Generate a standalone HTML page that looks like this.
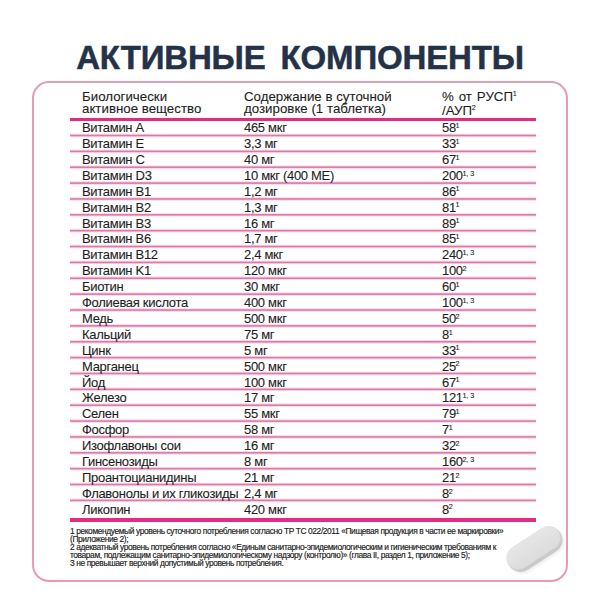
<!DOCTYPE html>
<html><head><meta charset="utf-8">
<style>
html,body{margin:0;padding:0;background:#fff;}
body{width:600px;height:600px;position:relative;overflow:hidden;font-family:"Liberation Sans",sans-serif;color:#1e1e1e;}
.a{position:absolute;white-space:nowrap;}
.t{position:absolute;left:0;width:600px;text-align:center;font-weight:bold;font-size:33px;letter-spacing:-0.16px;word-spacing:6px;-webkit-text-stroke:0.5px #243247;color:#243247;line-height:40px;top:37.79px;}
.box{position:absolute;left:32px;top:81px;width:532px;height:497px;border:2px solid #e89bb3;border-top-color:#dda2b4;border-radius:17px;}
.hl{position:absolute;left:70px;width:466px;background:#e62a80;}
.ln{position:absolute;left:70px;width:466px;height:1.5px;background:#d183a8;}
.r{position:absolute;font-size:13px;letter-spacing:-0.3px;-webkit-text-stroke:0.1px #1e1e1e;line-height:16px;white-space:nowrap;}
.h{position:absolute;font-size:13.3px;line-height:12px;white-space:nowrap;-webkit-text-stroke:0.1px #1e1e1e;}
sup{font-size:7.2px;vertical-align:0;position:relative;top:-4.3px;margin-left:-0.3px;letter-spacing:-0.3px;word-spacing:0.6px;}
.f{position:absolute;left:70px;font-size:8.4px;letter-spacing:-0.39px;line-height:10px;white-space:nowrap;color:#1a1a1a;-webkit-text-stroke:0.15px #1a1a1a;}
</style></head><body>

<div class="t">АКТИВНЫЕ КОМПОНЕНТЫ</div>
<div class="box"></div>
<div class="h" style="left:82px;top:90.60px">Биологически<br>активное вещество</div>
<div class="h" style="left:244px;top:90.60px">Содержание в суточной<br>дозировке (1 таблетка)</div>
<div class="h" style="left:442px;top:90.60px"><span style="word-spacing:1.2px">% от РУСП</span><sup>1</sup><br>/АУП<sup>2</sup></div>
<div class="hl" style="top:117.5px;height:3px"></div>
<div class="hl" style="top:518px;height:3.5px"></div>
<svg class="a" style="left:0;top:0" width="600" height="600"><rect x="70" y="133.60" width="466" height="3.8" fill="#fddbee"/><rect x="70" y="134.70" width="466" height="1.6" fill="#d87ca6"/><rect x="70" y="149.47" width="466" height="3.8" fill="#fddbee"/><rect x="70" y="150.56" width="466" height="1.6" fill="#d87ca6"/><rect x="70" y="165.33" width="466" height="3.8" fill="#fddbee"/><rect x="70" y="166.43" width="466" height="1.6" fill="#d87ca6"/><rect x="70" y="181.19" width="466" height="3.8" fill="#fddbee"/><rect x="70" y="182.29" width="466" height="1.6" fill="#d87ca6"/><rect x="70" y="197.06" width="466" height="3.8" fill="#fddbee"/><rect x="70" y="198.16" width="466" height="1.6" fill="#d87ca6"/><rect x="70" y="212.92" width="466" height="3.8" fill="#fddbee"/><rect x="70" y="214.02" width="466" height="1.6" fill="#d87ca6"/><rect x="70" y="228.79" width="466" height="3.8" fill="#fddbee"/><rect x="70" y="229.89" width="466" height="1.6" fill="#d87ca6"/><rect x="70" y="244.66" width="466" height="3.8" fill="#fddbee"/><rect x="70" y="245.75" width="466" height="1.6" fill="#d87ca6"/><rect x="70" y="260.52" width="466" height="3.8" fill="#fddbee"/><rect x="70" y="261.62" width="466" height="1.6" fill="#d87ca6"/><rect x="70" y="276.38" width="466" height="3.8" fill="#fddbee"/><rect x="70" y="277.48" width="466" height="1.6" fill="#d87ca6"/><rect x="70" y="292.25" width="466" height="3.8" fill="#fddbee"/><rect x="70" y="293.35" width="466" height="1.6" fill="#d87ca6"/><rect x="70" y="308.12" width="466" height="3.8" fill="#fddbee"/><rect x="70" y="309.21" width="466" height="1.6" fill="#d87ca6"/><rect x="70" y="323.98" width="466" height="3.8" fill="#fddbee"/><rect x="70" y="325.08" width="466" height="1.6" fill="#d87ca6"/><rect x="70" y="339.85" width="466" height="3.8" fill="#fddbee"/><rect x="70" y="340.94" width="466" height="1.6" fill="#d87ca6"/><rect x="70" y="355.71" width="466" height="3.8" fill="#fddbee"/><rect x="70" y="356.81" width="466" height="1.6" fill="#d87ca6"/><rect x="70" y="371.58" width="466" height="3.8" fill="#fddbee"/><rect x="70" y="372.68" width="466" height="1.6" fill="#d87ca6"/><rect x="70" y="387.44" width="466" height="3.8" fill="#fddbee"/><rect x="70" y="388.54" width="466" height="1.6" fill="#d87ca6"/><rect x="70" y="403.31" width="466" height="3.8" fill="#fddbee"/><rect x="70" y="404.40" width="466" height="1.6" fill="#d87ca6"/><rect x="70" y="419.17" width="466" height="3.8" fill="#fddbee"/><rect x="70" y="420.27" width="466" height="1.6" fill="#d87ca6"/><rect x="70" y="435.04" width="466" height="3.8" fill="#fddbee"/><rect x="70" y="436.13" width="466" height="1.6" fill="#d87ca6"/><rect x="70" y="450.90" width="466" height="3.8" fill="#fddbee"/><rect x="70" y="452.00" width="466" height="1.6" fill="#d87ca6"/><rect x="70" y="466.77" width="466" height="3.8" fill="#fddbee"/><rect x="70" y="467.87" width="466" height="1.6" fill="#d87ca6"/><rect x="70" y="482.63" width="466" height="3.8" fill="#fddbee"/><rect x="70" y="483.73" width="466" height="1.6" fill="#d87ca6"/><rect x="70" y="498.50" width="466" height="3.8" fill="#fddbee"/><rect x="70" y="499.59" width="466" height="1.6" fill="#d87ca6"/></svg>
<div class="r" style="left:82px;top:120.10px">Витамин A</div>
<div class="r" style="left:244px;top:120.10px">465 мкг</div>
<div class="r" style="left:442px;top:120.10px">58<sup>1</sup></div>
<div class="r" style="left:82px;top:136.00px">Витамин E</div>
<div class="r" style="left:244px;top:136.00px">3,3 мг</div>
<div class="r" style="left:442px;top:136.00px">33<sup>1</sup></div>
<div class="r" style="left:82px;top:151.90px">Витамин C</div>
<div class="r" style="left:244px;top:151.90px">40 мг</div>
<div class="r" style="left:442px;top:151.90px">67<sup>1</sup></div>
<div class="r" style="left:82px;top:167.80px">Витамин D3</div>
<div class="r" style="left:244px;top:167.80px">10 мкг (400 МЕ)</div>
<div class="r" style="left:442px;top:167.80px">200<sup>1, 3</sup></div>
<div class="r" style="left:82px;top:183.70px">Витамин B1</div>
<div class="r" style="left:244px;top:183.70px">1,2 мг</div>
<div class="r" style="left:442px;top:183.70px">86<sup>1</sup></div>
<div class="r" style="left:82px;top:199.60px">Витамин B2</div>
<div class="r" style="left:244px;top:199.60px">1,3 мг</div>
<div class="r" style="left:442px;top:199.60px">81<sup>1</sup></div>
<div class="r" style="left:82px;top:215.50px">Витамин B3</div>
<div class="r" style="left:244px;top:215.50px">16 мг</div>
<div class="r" style="left:442px;top:215.50px">89<sup>1</sup></div>
<div class="r" style="left:82px;top:231.40px">Витамин B6</div>
<div class="r" style="left:244px;top:231.40px">1,7 мг</div>
<div class="r" style="left:442px;top:231.40px">85<sup>1</sup></div>
<div class="r" style="left:82px;top:247.30px">Витамин B12</div>
<div class="r" style="left:244px;top:247.30px">2,4 мкг</div>
<div class="r" style="left:442px;top:247.30px">240<sup>1, 3</sup></div>
<div class="r" style="left:82px;top:263.20px">Витамин K1</div>
<div class="r" style="left:244px;top:263.20px">120 мкг</div>
<div class="r" style="left:442px;top:263.20px">100<sup>2</sup></div>
<div class="r" style="left:82px;top:279.10px">Биотин</div>
<div class="r" style="left:244px;top:279.10px">30 мкг</div>
<div class="r" style="left:442px;top:279.10px">60<sup>1</sup></div>
<div class="r" style="left:82px;top:295.00px">Фолиевая кислота</div>
<div class="r" style="left:244px;top:295.00px">400 мкг</div>
<div class="r" style="left:442px;top:295.00px">100<sup>1, 3</sup></div>
<div class="r" style="left:82px;top:310.90px">Медь</div>
<div class="r" style="left:244px;top:310.90px">500 мкг</div>
<div class="r" style="left:442px;top:310.90px">50<sup>2</sup></div>
<div class="r" style="left:82px;top:326.80px">Кальций</div>
<div class="r" style="left:244px;top:326.80px">75 мг</div>
<div class="r" style="left:442px;top:326.80px">8<sup>1</sup></div>
<div class="r" style="left:82px;top:342.70px">Цинк</div>
<div class="r" style="left:244px;top:342.70px">5 мг</div>
<div class="r" style="left:442px;top:342.70px">33<sup>1</sup></div>
<div class="r" style="left:82px;top:358.60px">Марганец</div>
<div class="r" style="left:244px;top:358.60px">500 мкг</div>
<div class="r" style="left:442px;top:358.60px">25<sup>2</sup></div>
<div class="r" style="left:82px;top:374.50px">Йод</div>
<div class="r" style="left:244px;top:374.50px">100 мкг</div>
<div class="r" style="left:442px;top:374.50px">67<sup>1</sup></div>
<div class="r" style="left:82px;top:390.40px">Железо</div>
<div class="r" style="left:244px;top:390.40px">17 мг</div>
<div class="r" style="left:442px;top:390.40px">121<sup>1, 3</sup></div>
<div class="r" style="left:82px;top:406.30px">Селен</div>
<div class="r" style="left:244px;top:406.30px">55 мкг</div>
<div class="r" style="left:442px;top:406.30px">79<sup>1</sup></div>
<div class="r" style="left:82px;top:422.20px">Фосфор</div>
<div class="r" style="left:244px;top:422.20px">58 мг</div>
<div class="r" style="left:442px;top:422.20px">7<sup>1</sup></div>
<div class="r" style="left:82px;top:438.10px">Изофлавоны сои</div>
<div class="r" style="left:244px;top:438.10px">16 мг</div>
<div class="r" style="left:442px;top:438.10px">32<sup>2</sup></div>
<div class="r" style="left:82px;top:454.00px">Гинсенозиды</div>
<div class="r" style="left:244px;top:454.00px">8 мг</div>
<div class="r" style="left:442px;top:454.00px">160<sup>2, 3</sup></div>
<div class="r" style="left:82px;top:469.90px">Проантоцианидины</div>
<div class="r" style="left:244px;top:469.90px">21 мг</div>
<div class="r" style="left:442px;top:469.90px">21<sup>2</sup></div>
<div class="r" style="left:82px;top:485.80px">Флавонолы и их гликозиды</div>
<div class="r" style="left:244px;top:485.80px">2,4 мг</div>
<div class="r" style="left:442px;top:485.80px">8<sup>2</sup></div>
<div class="r" style="left:82px;top:501.70px">Ликопин</div>
<div class="r" style="left:244px;top:501.70px">420 мкг</div>
<div class="r" style="left:442px;top:501.70px">8<sup>2</sup></div>
<div class="f" style="top:525.92px">1 рекомендуемый уровень суточного потребления согласно ТР ТС 022/2011 «Пищевая продукция в части ее маркировки»</div>
<div class="f" style="top:533.72px">(Приложение 2);</div>
<div class="f" style="top:541.52px">2 адекватный уровень потребления согласно «Единым санитарно-эпидемиологическим и гигиеническим требованиям к</div>
<div class="f" style="top:549.62px">товарам, подлежащим санитарно-эпидемиологическому надзору (контролю)» (глава II, раздел 1, приложение 5);</div>
<div class="f" style="top:557.72px">3 не превышает верхний допустимый уровень потребления.</div>
<svg class="a" style="left:495px;top:515px" width="80" height="70" viewBox="0 0 80 70">
<defs>
<linearGradient id="pg" x1="0" y1="0" x2="0" y2="1">
<stop offset="0" stop-color="#e6e6e6"/><stop offset="1" stop-color="#dcdcdc"/>
</linearGradient>
<linearGradient id="eg" x1="0" y1="0" x2="0" y2="1">
<stop offset="0" stop-color="#d6d6d6"/><stop offset="1" stop-color="#c9c9c9"/>
</linearGradient>
<filter id="bl" x="-30%" y="-30%" width="160%" height="160%"><feGaussianBlur stdDeviation="1.2"/></filter>
<filter id="bl2" x="-30%" y="-30%" width="160%" height="160%"><feGaussianBlur stdDeviation="0.5"/></filter>
</defs>
<g transform="translate(39.7,34.1) rotate(-33)">
<rect x="-30" y="-11" width="61" height="27" rx="13.5" fill="#c8c8c8" filter="url(#bl)" opacity="0.3"/>
<rect x="-30.5" y="-13.5" width="61" height="27" rx="13.5" fill="url(#eg)"/>
<rect x="-30.3" y="-13.5" width="59.8" height="23.5" rx="11.75" fill="url(#pg)" filter="url(#bl2)"/>
</g>
</svg>
</body></html>
